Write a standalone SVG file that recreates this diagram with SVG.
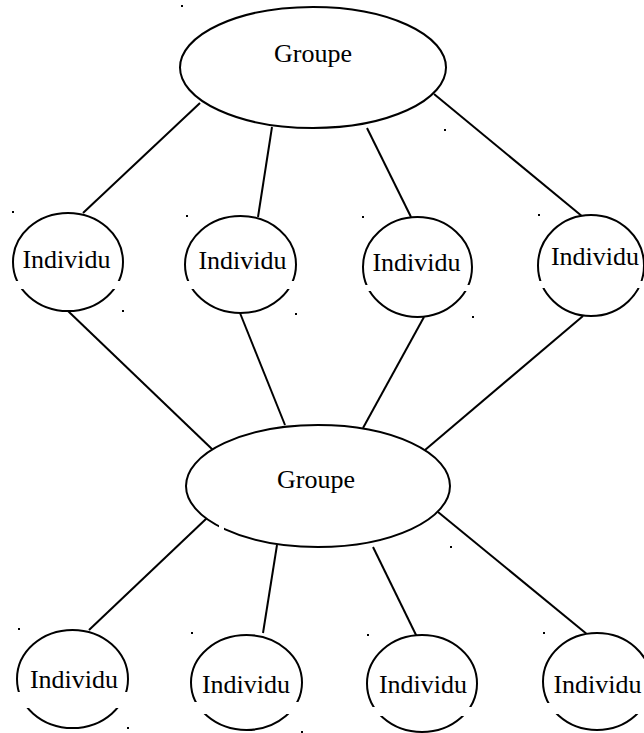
<svg xmlns="http://www.w3.org/2000/svg" width="644" height="733" viewBox="0 0 644 733">
  <style>
    .shape { fill: #fff; stroke: #000; stroke-width: 2; }
    .link { stroke: #000; stroke-width: 2; fill: none; }
    .gap { fill: #fff; stroke: none; }
    .label { font-family: "Liberation Serif", "Times New Roman", serif; font-size: 26px; fill: #000; text-anchor: middle; }
    .dot { fill: #000; }
  </style>
  <rect width="644" height="733" fill="#fff"/>

  <!-- connectors -->
  <g id="connectors">
    <line class="link" x1="200" y1="103" x2="83" y2="213"/>
    <line class="link" x1="272" y1="127" x2="258" y2="217"/>
    <line class="link" x1="367" y1="128" x2="411" y2="217"/>
    <line class="link" x1="434" y1="94" x2="583" y2="217"/>
    <line class="link" x1="68" y1="311" x2="213" y2="450"/>
    <line class="link" x1="240" y1="313" x2="285" y2="425"/>
    <line class="link" x1="424" y1="317" x2="363" y2="428"/>
    <line class="link" x1="583" y1="316" x2="425" y2="450"/>
    <line class="link" x1="207" y1="518" x2="89" y2="630"/>
    <line class="link" x1="277" y1="545" x2="263" y2="633"/>
    <line class="link" x1="373" y1="547" x2="417" y2="637"/>
    <line class="link" x1="438" y1="512" x2="588" y2="635"/>
  </g>

  <!-- group nodes -->
  <g id="groupe-haut">
    <ellipse class="shape" cx="313" cy="67.5" rx="133" ry="60.5"/>
    <text class="label" x="313" y="62">Groupe</text>
  </g>
  <g id="groupe-bas">
    <ellipse class="shape" cx="318" cy="486" rx="132" ry="61"/>
    <rect class="gap" x="219" y="522" width="5" height="10"/>
    <text class="label" x="316" y="488">Groupe</text>
  </g>

  <!-- first row of individuals -->
  <g id="individu-1">
    <ellipse class="shape" cx="68" cy="262" rx="55" ry="49"/>
    <rect class="gap" x="10" y="281" width="116" height="8"/>
    <text class="label" x="66.5" y="268">Individu</text>
  </g>
  <g id="individu-2">
    <ellipse class="shape" cx="240.5" cy="264.5" rx="55.5" ry="48.5"/>
    <rect class="gap" x="182" y="281" width="117" height="8"/>
    <text class="label" x="242.5" y="269">Individu</text>
  </g>
  <g id="individu-3">
    <ellipse class="shape" cx="417.5" cy="267" rx="54.5" ry="50"/>
    <rect class="gap" x="360" y="285" width="115" height="6"/>
    <text class="label" x="416.5" y="271">Individu</text>
  </g>
  <g id="individu-4">
    <ellipse class="shape" cx="591" cy="265.5" rx="53" ry="50.5"/>
    <rect class="gap" x="535" y="281" width="109" height="7"/>
    <text class="label" x="595" y="265">Individu</text>
  </g>

  <!-- second row of individuals -->
  <g id="individu-5">
    <ellipse class="shape" cx="72.5" cy="679" rx="55.5" ry="49"/>
    <rect class="gap" x="14" y="692" width="117" height="16"/>
    <text class="label" x="74" y="688">Individu</text>
  </g>
  <g id="individu-6">
    <ellipse class="shape" cx="246.5" cy="682.5" rx="55.5" ry="47.5"/>
    <rect class="gap" x="188" y="702" width="117" height="12"/>
    <text class="label" x="246" y="693">Individu</text>
  </g>
  <g id="individu-7">
    <ellipse class="shape" cx="422" cy="683.5" rx="55" ry="48.5"/>
    <rect class="gap" x="364" y="707" width="116" height="9"/>
    <text class="label" x="423" y="693">Individu</text>
  </g>
  <g id="individu-8">
    <ellipse class="shape" cx="597" cy="681.5" rx="54" ry="48.5"/>
    <rect class="gap" x="540" y="703" width="104" height="11"/>
    <text class="label" x="597.5" y="693">Individu</text>
  </g>

  <!-- stray anchor marks -->
  <g id="marks">
    <rect class="dot" x="181" y="5" width="2" height="2"/>
    <rect class="dot" x="444" y="129" width="2" height="2"/>
    <rect class="dot" x="12" y="211" width="2" height="2"/>
    <rect class="dot" x="186" y="215" width="2" height="2"/>
    <rect class="dot" x="362" y="216" width="2" height="2"/>
    <rect class="dot" x="538" y="214" width="2" height="2"/>
    <rect class="dot" x="122" y="310" width="2" height="2"/>
    <rect class="dot" x="295" y="313" width="2" height="2"/>
    <rect class="dot" x="472" y="316" width="2" height="2"/>
    <rect class="dot" x="450" y="546" width="2" height="2"/>
    <rect class="dot" x="18" y="628" width="2" height="2"/>
    <rect class="dot" x="191" y="632" width="2" height="2"/>
    <rect class="dot" x="367" y="634" width="2" height="2"/>
    <rect class="dot" x="543" y="632" width="2" height="2"/>
    <rect class="dot" x="127" y="727" width="2" height="2"/>
    <rect class="dot" x="301" y="731" width="2" height="2"/>
  </g>
</svg>
